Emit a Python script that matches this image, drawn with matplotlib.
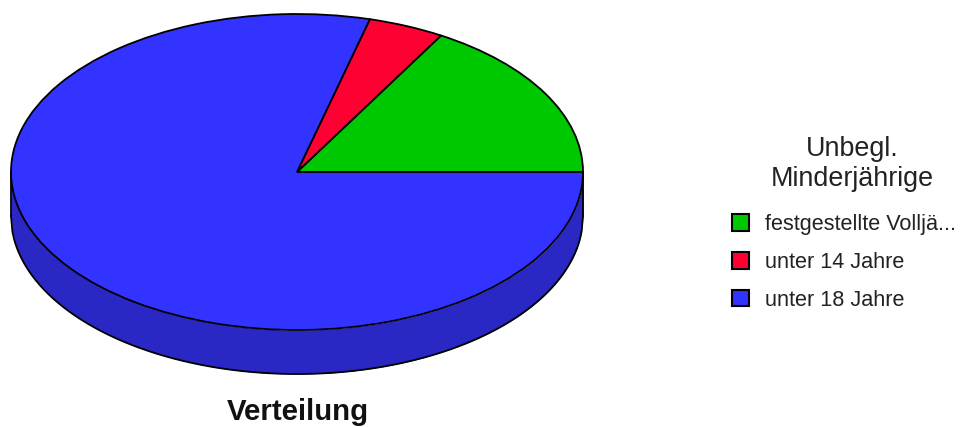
import matplotlib
matplotlib.use("Agg")
import numpy as np
from matplotlib import pyplot as plt
from matplotlib.patches import Patch

labels = ["festgestellte Vollj\u00e4...", "unter 14 Jahre", "unter 18 Jahre"]
shares = [16.6, 4.3, 79.1]
colors = ["#00c800", "#ff0033", "#3333ff"]
sideColor = "#2a28c4"
legendTitle = ["Unbegl.", "Minderj\u00e4hrige"]
title = "Verteilung"

W, H = 960, 428
plt.rcParams['font.family'] = ['Liberation Sans', 'DejaVu Sans']

fig = plt.figure(figsize=(W / 100, H / 100), dpi=100)
# top ellipse spans 11..583 x 14..330 px, the rim goes down to 374
ax = fig.add_axes([11 / W, 1 - 374 / H, 572 / W, 360 / H])
depth = 44 / 158

## Rim first, then the pie on top
x = np.linspace(-1, 1, 400)
lower = -np.sqrt(1 - x ** 2)
ax.fill_between(x, lower, lower - depth, color=sideColor, lw=0)
ax.plot(x, lower - depth, color="black", lw=1.3, clip_on=False)
ax.plot([-1, -1], [0, -depth], color="black", lw=1.3, clip_on=False)
ax.plot([1, 1], [0, -depth], color="black", lw=1.3, clip_on=False)

ax.pie(shares, colors=colors, startangle=0, counterclock=True, radius=1,
       wedgeprops={"edgecolor": "black", "linewidth": 1.3, "clip_on": False})
ax.set_aspect("auto")
ax.set_xlim(-1, 1)
ax.set_ylim(-1 - depth, 1)
ax.axis("off")

fig.text(298 / W, 1 - 412 / H, title, ha="center", va="center", fontsize=21.2, fontweight="bold", color="#111111")

## Legend title is separate so it can sit off the legend box centre
fig.text(852 / W, 1 - 149 / H, legendTitle[0], ha="center", va="center", fontsize=19.4, color="#222222")
fig.text(852 / W, 1 - 179 / H, legendTitle[1], ha="center", va="center", fontsize=19.4, color="#222222")

handles = [Patch(facecolor=c, edgecolor="black", linewidth=1.5) for c in colors]
leg = fig.legend(handles, labels, loc="upper left",
                 bbox_to_anchor=(732 / W, 1 - 214 / H), frameon=False,
                 fontsize=15.6, labelspacing=0.78,
                 handlelength=0.78, handleheight=0.78, handletextpad=0.75,
                 borderpad=0, borderaxespad=0)
for t in leg.get_texts():
    t.set_color("#222222")

fig.savefig("out.png", dpi=100)
